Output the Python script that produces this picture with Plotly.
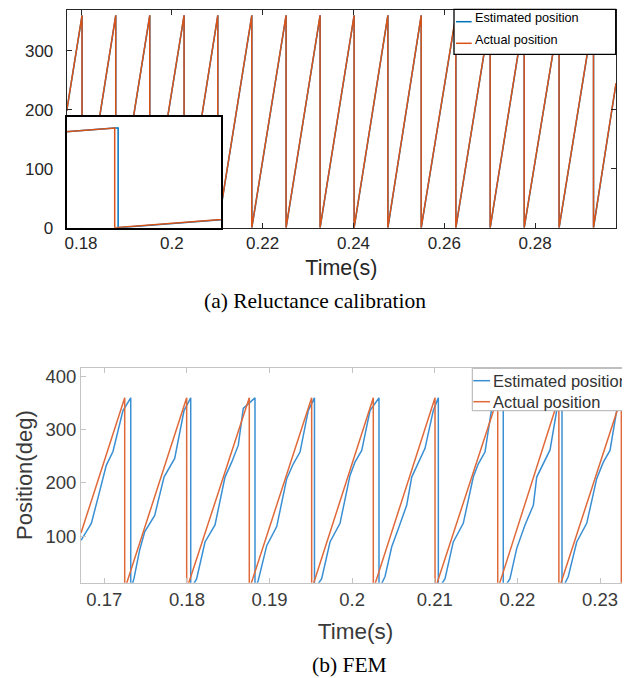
import plotly.graph_objects as go

# page body has an 8px default margin, so the figure is placed at (8, 8)
OFF = 8
W, H = 622, 670

# ---------------- (a) Reluctance calibration ----------------
a_time_actual = [0.17685,
                 0.18022, 0.18022, 0.18764, 0.18764, 0.19513, 0.19513, 0.20269, 0.20269,
                 0.21011, 0.21011, 0.21760, 0.21760, 0.22515, 0.22515, 0.23264, 0.23264,
                 0.24013, 0.24013, 0.24756, 0.24756, 0.25490, 0.25490, 0.26253, 0.26253,
                 0.27009, 0.27009, 0.27758, 0.27758, 0.28526, 0.28526, 0.29284, 0.29284,
                 0.29780]
a_pos_actual = [198,
                360, 0, 360, 0, 360, 0, 360, 0,
                360, 0, 360, 0, 360, 0, 360, 0,
                360, 0, 360, 0, 360, 0, 360, 0,
                360, 0, 360, 0, 360, 0, 360, 0,
                245]

a_time_est = [0.17685,
              0.18022, 0.18024, 0.18024, 0.18764, 0.18766, 0.18766,
              0.19513, 0.19515, 0.19515, 0.20269, 0.20271, 0.20271,
              0.21011, 0.21013, 0.21013, 0.21760, 0.21762, 0.21762,
              0.22515, 0.22517, 0.22517, 0.23264, 0.23266, 0.23266,
              0.24013, 0.24015, 0.24015, 0.24756, 0.24758, 0.24758,
              0.25490, 0.25492, 0.25492, 0.26253, 0.26255, 0.26255,
              0.27009, 0.27011, 0.27011, 0.27758, 0.27760, 0.27760,
              0.28526, 0.28528, 0.28528, 0.29284, 0.29286, 0.29286,
              0.29780]
a_pos_est = [198,
             360, 360, 0, 360, 360, 0,
             360, 360, 0, 360, 360, 0,
             360, 360, 0, 360, 360, 0,
             360, 360, 0, 360, 360, 0,
             360, 360, 0, 360, 360, 0,
             360, 360, 0, 360, 360, 0,
             360, 360, 0, 360, 360, 0,
             360, 360, 0, 360, 360, 0,
             244]

a_xticks = [0.18, 0.20, 0.22, 0.24, 0.26, 0.28]
a_xticktext = ["0.18", "0.2", "0.22", "0.24", "0.26", "0.28"]
a_yticks = [0, 100, 200, 300]
a_range_x = [0.17685, 0.29780]
a_range_y = [0, 369]
inset_range_x = [0.19485, 0.19575]
inset_range_y = [0, 400]

# ---------------- (b) FEM ----------------
b_time_actual = [0.16718, 0.17247, 0.17247, 0.17997, 0.17997, 0.18755, 0.18755,
                 0.19510, 0.19510, 0.20256, 0.20256, 0.21003, 0.21003, 0.21762, 0.21762,
                 0.22502, 0.22502, 0.23258, 0.23258, 0.23363]
b_pos_actual = [106, 360, 0, 360, 0, 360, 0,
                360, 0, 360, 0, 360, 0, 360, 0,
                360, 0, 360, 0, 50]

b_time_est = [0.16718, 0.16843, 0.16932, 0.17024, 0.17105, 0.17226, 0.17320,
              0.17320, 0.17359, 0.17428, 0.17489, 0.17610, 0.17723, 0.17852, 0.17965, 0.18046,
              0.18046, 0.18118, 0.18219, 0.18340, 0.18461, 0.18542, 0.18622, 0.18682, 0.18824,
              0.18824, 0.18864, 0.18966, 0.19087, 0.19208, 0.19288, 0.19369, 0.19469, 0.19544,
              0.19544, 0.19631, 0.19732, 0.19853, 0.19974, 0.20034, 0.20116, 0.20216, 0.20325,
              0.20325, 0.20398, 0.20479, 0.20559, 0.20660, 0.20721, 0.20821, 0.20882, 0.20982, 0.21043,
              0.21043, 0.21124, 0.21224, 0.21345, 0.21466, 0.21527, 0.21608, 0.21689, 0.21829,
              0.21829, 0.21910, 0.21992, 0.22092, 0.22193, 0.22234, 0.22334, 0.22395, 0.22476, 0.22540,
              0.22540, 0.22616, 0.22718, 0.22839, 0.22960, 0.23040, 0.23121, 0.23202, 0.23315,
              0.23315, 0.23363]
b_pos_est = [92, 124, 177, 233, 259, 336, 360,
             0, 20, 74, 108, 139, 211, 246, 336, 360,
             0, 20, 89, 121, 211, 239, 271, 340, 360,
             0, 17, 82, 118, 208, 236, 258, 336, 360,
             0, 20, 89, 124, 214, 239, 261, 336, 360,
             0, 24, 80, 114, 158, 211, 243, 265, 336, 360,
             0, 20, 89, 124, 211, 236, 258, 340, 360,
             0, 20, 77, 121, 158, 211, 243, 262, 336, 360,
             0, 24, 89, 124, 208, 239, 261, 336, 360,
             0, 18]

b_xticks = [0.17, 0.18, 0.19, 0.20, 0.21, 0.22, 0.23]
b_xticktext = ["0.17", "0.18", "0.19", "0.2", "0.21", "0.22", "0.23"]
b_yticks = [100, 200, 300, 400]
b_range_x = [0.16718, 0.23363]
b_range_y = [12.4, 417]

series_names = ["Estimated position", "Actual position"]
BLUE_A, ORANGE_A = "#0072BD", "#D95319"
BLUE_B, ORANGE_B = "#3A8FD3", "#E0693A"

SANS = "Liberation Sans, Arial, sans-serif"
SERIF = "Liberation Serif, Times New Roman, serif"


def px_x(p):
    return (p - OFF) / W


def px_y(p):
    return 1 - (p - OFF) / H


fig = go.Figure()

# top main
fig.add_trace(go.Scatter(x=a_time_est, y=a_pos_est, mode="lines", name=series_names[0],
                         line=dict(color=BLUE_A, width=1.5), xaxis="x", yaxis="y",
                         showlegend=False))
fig.add_trace(go.Scatter(x=a_time_actual, y=a_pos_actual, mode="lines", name=series_names[1],
                         line=dict(color=ORANGE_A, width=1.5), xaxis="x", yaxis="y",
                         showlegend=False))
# inset (same data, zoomed)
fig.add_trace(go.Scatter(x=a_time_est, y=a_pos_est, mode="lines", showlegend=False,
                         name=series_names[0],
                         line=dict(color=BLUE_A, width=1.5), xaxis="x3", yaxis="y3"))
fig.add_trace(go.Scatter(x=a_time_actual, y=a_pos_actual, mode="lines", showlegend=False,
                         name=series_names[1],
                         line=dict(color=ORANGE_A, width=1.5), xaxis="x3", yaxis="y3"))
# bottom
fig.add_trace(go.Scatter(x=b_time_est, y=b_pos_est, mode="lines", name=series_names[0],
                         line=dict(color=BLUE_B, width=1.5), xaxis="x2", yaxis="y2",
                         showlegend=False))
fig.add_trace(go.Scatter(x=b_time_actual, y=b_pos_actual, mode="lines", name=series_names[1],
                         line=dict(color=ORANGE_B, width=1.5), xaxis="x2", yaxis="y2",
                         showlegend=False))

top_ax = dict(showline=True, linecolor="#262626", linewidth=1, mirror="ticks",
              ticks="inside", ticklen=5, tickcolor="#262626", showgrid=False, zeroline=False,
              tickfont=dict(family=SANS, size=17, color="#262626"))
bot_ax = dict(showline=True, linecolor="#c4c4c4", linewidth=1, mirror="ticks",
              ticks="inside", ticklen=5, tickcolor="#c4c4c4", showgrid=False, zeroline=False,
              tickfont=dict(family=SANS, size=18.5, color="#3a3a3a"))

# hand-built legends (MATLAB style boxes)
shapes = [
    dict(type="rect", xref="x3", yref="y3", x0=0.19, x1=0.20, y0=-100, y1=1000,
         fillcolor="white", line=dict(width=0), layer="below"),
    # top legend
    dict(type="rect", xref="paper", yref="paper", x0=px_x(454), x1=px_x(615.7),
         y0=px_y(54.3), y1=px_y(9.3), fillcolor="white",
         line=dict(color="black", width=1.3), layer="above"),
    dict(type="line", xref="paper", yref="paper", x0=px_x(456), x1=px_x(471.7),
         y0=px_y(21.7), y1=px_y(21.7), line=dict(color=BLUE_A, width=1.5), layer="above"),
    dict(type="line", xref="paper", yref="paper", x0=px_x(456), x1=px_x(471.7),
         y0=px_y(43.3), y1=px_y(43.3), line=dict(color=ORANGE_A, width=1.5), layer="above"),
    # bottom legend
    dict(type="rect", xref="paper", yref="paper", x0=px_x(472.3), x1=px_x(660),
         y0=px_y(410.7), y1=px_y(368.3), fillcolor="white",
         line=dict(color="#b0b0b0", width=1), layer="above"),
    dict(type="line", xref="paper", yref="paper", x0=px_x(473.3), x1=px_x(490),
         y0=px_y(380.7), y1=px_y(380.7), line=dict(color=BLUE_B, width=1.5), layer="above"),
    dict(type="line", xref="paper", yref="paper", x0=px_x(473.3), x1=px_x(490),
         y0=px_y(401.7), y1=px_y(401.7), line=dict(color=ORANGE_B, width=1.5), layer="above"),
]

annotations = [
    dict(text=series_names[0], xref="paper", yref="paper", x=px_x(472.7), y=px_y(18),
         xanchor="left", yanchor="middle", showarrow=False,
         font=dict(family=SANS, size=12.7, color="black")),
    dict(text=series_names[1], xref="paper", yref="paper", x=px_x(472.7), y=px_y(40.5),
         xanchor="left", yanchor="middle", showarrow=False,
         font=dict(family=SANS, size=12.7, color="black")),
    dict(text=series_names[0], xref="paper", yref="paper", x=px_x(491), y=px_y(381),
         xanchor="left", yanchor="middle", showarrow=False,
         font=dict(family=SANS, size=16.5, color="#333333")),
    dict(text=series_names[1], xref="paper", yref="paper", x=px_x(491), y=px_y(402),
         xanchor="left", yanchor="middle", showarrow=False,
         font=dict(family=SANS, size=16.5, color="#333333")),
    dict(text="(a) Reluctance calibration", xref="paper", yref="paper",
         x=px_x(315), y=px_y(301), xanchor="center", yanchor="middle", showarrow=False,
         font=dict(family=SERIF, size=21.5, color="black")),
    dict(text="(b) FEM", xref="paper", yref="paper",
         x=px_x(350), y=px_y(665), xanchor="center", yanchor="middle", showarrow=False,
         font=dict(family=SERIF, size=21.5, color="black")),
]

fig.update_layout(
    width=W, height=H,
    margin=dict(l=0, r=0, t=0, b=0, autoexpand=False),
    paper_bgcolor="white", plot_bgcolor="white",
    showlegend=False,
    xaxis=dict(domain=[px_x(66.7), px_x(616)], range=a_range_x, anchor="y",
               tickvals=a_xticks, ticktext=a_xticktext,
               title=dict(text="Time(s)", font=dict(family=SANS, size=21.5, color="#262626"), standoff=7),
               **top_ax),
    yaxis=dict(domain=[px_y(227.7), px_y(10)], range=a_range_y, anchor="x",
               tickvals=a_yticks, ticklabelstandoff=9, **top_ax),
    xaxis2=dict(domain=[px_x(81), 1.0], range=b_range_x, anchor="y2",
                tickvals=b_xticks, ticktext=b_xticktext,
                title=dict(text="Time(s)", font=dict(family=SANS, size=22.5, color="#3a3a3a"), standoff=14),
                **bot_ax),
    yaxis2=dict(domain=[px_y(582.7), px_y(367.5)], range=b_range_y, anchor="x2",
                tickvals=b_yticks,
                title=dict(text="Position(deg)", font=dict(family=SANS, size=22, color="#3a3a3a"), standoff=6),
                **bot_ax),
    xaxis3=dict(domain=[px_x(66.7), px_x(221)], range=inset_range_x, anchor="y3",
                showline=True, linecolor="black", linewidth=1.5, mirror=True,
                showticklabels=False, ticks="", showgrid=False, zeroline=False),
    yaxis3=dict(domain=[px_y(227.7), px_y(117)], range=inset_range_y, anchor="x3",
                showline=True, linecolor="black", linewidth=1.5, mirror=True,
                showticklabels=False, ticks="", showgrid=False, zeroline=False),
    shapes=shapes,
    annotations=annotations,
)

fig.write_html("out.html")
